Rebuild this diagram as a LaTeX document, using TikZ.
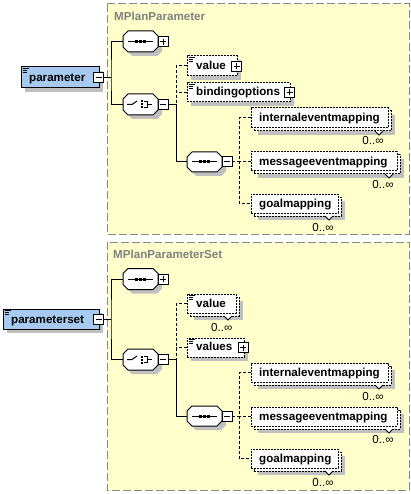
\documentclass[tikz,border=0pt]{standalone}
\usepackage{fontspec}
\setmainfont{Liberation Sans}
\definecolor{grpfill}{HTML}{FFFFCC}
\definecolor{grpline}{HTML}{888888}
\definecolor{elblue}{HTML}{A6CAF0}
\definecolor{shad}{HTML}{C0C0C0}
\definecolor{ttl}{HTML}{808080}
\tikzset{
 grp/.style={draw=grpline, fill=grpfill, line width=1pt, dash pattern=on 8pt off 3pt},
 elbox/.style={draw, line width=1pt, fill=elblue, inner sep=0pt, outer sep=0pt},
 optbox/.style={draw, line width=1pt, fill=white, inner sep=0pt, outer sep=0pt, dash pattern=on 2pt off 1pt},
 pmbox/.style={draw, fill=white, line width=1pt, minimum size=10pt, inner sep=0pt, outer sep=0pt},
 lbl/.style={font=\fontsize{11.6}{14}\selectfont\bfseries, anchor=base west, inner sep=0pt},
 ttlstyle/.style={font=\fontsize{11.6}{14}\selectfont\bfseries, anchor=base west, inner sep=0pt, text=ttl},
 occ/.style={font=\fontsize{11.6}{14}\selectfont, anchor=base, inner sep=0pt},
 conn/.style={line width=1pt},
 dconn/.style={line width=1pt, dash pattern=on 3pt off 2pt},
 sym/.style={line width=1pt},
}
% style, name, x1, y1, x2, y2
\newcommand\elnode[6]{%
 \fill[shad] (#3+4,#4+4) rectangle (#5+4,#6+4);
 \node[#1, minimum width={#5-#3}, minimum height={#6-#4}] (#2) at ({(#3+#5)/2},{(#4+#6)/2}) {};}
% name, x, y, plus(1)/minus(0)
\newcommand\pmnode[4]{%
 \node[pmbox] (#1) at (#2,#3) {};
 \draw[line width=1pt] ([xshift=-3pt]#1.center) -- ([xshift=3pt]#1.center);
 \ifnum#4=1 \draw[line width=1pt] ([yshift=-3pt]#1.center) -- ([yshift=3pt]#1.center);\fi}
% icon at x1,y1
\newcommand\elicon[2]{%
 \draw[line width=0.8pt] (#1+1.5,#2+1.5) -- (#1+7.5,#2+1.5)
   (#1+1.5,#2+3.5) -- (#1+6,#2+3.5) (#1+1.5,#2+5.5) -- (#1+6,#2+5.5);}
% compositor: name, x1, y1, x2, y2
\newcommand\cpath[4]{(#1+5,#2) -- (#3-5,#2) -- (#3,#2+5) -- (#3,#4-5) -- (#3-5,#4) -- (#1+5,#4) -- (#1,#4-5) -- (#1,#2+5) -- cycle}
\newcommand\compo[5]{%
 \fill[shad] \cpath{#2+4}{#3+4}{#4+4}{#5+4};
 \draw[line width=1pt, fill=white] \cpath{#2}{#3}{#4}{#5};
 \coordinate (#1w) at (#2,{(#3+#5)/2});
 \coordinate (#1c) at ({(#2+#4)/2},{(#3+#5)/2});}
\newcommand\seqsym[1]{%
 \draw[sym] ([xshift=-12.5pt]#1) -- ([xshift=12.5pt]#1);
 \foreach \dx in {-3.7,0,3.7} \fill ([shift={(\dx pt-1.5pt,-1.5pt)}]#1) rectangle ([shift={(\dx pt+1.5pt,1.5pt)}]#1);}
\newcommand\chosym[1]{%
 \draw[sym] ([xshift=-13.5pt]#1) -- ([xshift=-8.5pt]#1) -- ([shift={(-3.5pt,3.5pt)}]#1);
 \foreach \dy in {-3,0,3} \fill ([shift={(0.5pt,\dy pt-1pt)}]#1) rectangle ([shift={(2.7pt,\dy pt+1pt)}]#1);
 \draw[sym] ([shift={(3.5pt,3pt)}]#1) -- ([shift={(6.5pt,3pt)}]#1) -- ([shift={(6.5pt,-3pt)}]#1) -- ([shift={(3.5pt,-3pt)}]#1);
 \draw[sym] ([shift={(6.5pt,0pt)}]#1) -- ([shift={(11.5pt,0pt)}]#1);}
% multi element: name, x1, y1, x2, y2, notchx, labelx, labelbase, text
\newcommand\multi[9]{%
 \fill[shad] (#2+7,#3+7) rectangle (#4+7,#5+7);
 \node[optbox, minimum width={#4-#2}, minimum height={#5-#3}] (#1b) at ({(#2+#4)/2+3},{(#3+#5)/2+3}) {};
 \node[optbox, minimum width={#4-#2}, minimum height={#5-#3}] (#1) at ({(#2+#4)/2},{(#3+#5)/2}) {};
 \fill[white] (#6-4,#5+3) -- (#6,#5+7) -- (#6+4,#5+3) -- cycle;
 \draw[line width=1pt] (#6-4,#5+3) -- (#6,#5+7) -- (#6+4,#5+3);
 \node[lbl] (#1t) at (259,{(#3+#5)/2+4}) {#9};
 \node[occ] (#1o) at (#7,#8) {0..∞};}
\begin{document}
\begin{tikzpicture}[x=1pt,y=-1pt]
\useasboundingbox (0,0) rectangle (411,494);
% groups
\draw[grp] (107,4) rectangle (409,234);
\draw[grp] (107,242) rectangle (409,490);
\node[ttlstyle] (t1) at (114,21) {MPlanParameter};
\node[ttlstyle] (t2) at (113,258.5) {MPlanParameterSet};

% ===== top =====
\elnode{elbox}{p1}{21}{67}{99}{88}
\elicon{21}{67}
\node[lbl] (p1t) at (29,81.5) {parameter};
\pmnode{p1pm}{98.5}{77.5}{0}

\compo{s1}{123}{31}{158}{52}
\seqsym{s1c}
\pmnode{s1pm}{163}{42}{1}
\compo{c1}{123}{94}{158}{115}
\chosym{c1c}
\pmnode{c1pm}{163}{104.5}{0}

\elnode{optbox}{v1}{187}{56}{237}{76}
\elicon{187}{56}
\node[lbl] (v1t) at (196,69.8) {value};
\pmnode{v1pm}{236.5}{66.5}{1}
\elnode{optbox}{b1}{187}{83}{290}{102}
\elicon{187}{83}
\node[lbl] (b1t) at (196,96) {bindingoptions};
\pmnode{b1pm}{289.5}{92.5}{1}

\compo{s2}{187}{152}{222}{172}
\seqsym{s2c}
\pmnode{s2pm}{227}{162}{0}

\multi{i1}{251}{108}{388}{128}{379}{373}{145}{internaleventmapping}
\multi{m1}{251}{152}{397}{171}{389}{383}{188}{messageeventmapping}
\multi{g1}{251}{194}{338}{213}{329}{323}{231.5}{goalmapping}

\coordinate (j1) at (111,77.5);
\draw[conn] (p1pm.east) -- (j1);
\draw[conn] (s1w) -| (j1) |- (c1w);
\coordinate (j2) at (176,104.5);
\draw[conn] (c1pm.east) -- (j2) |- (s2w);
\draw[dconn] (v1.west) -| (j2);
\draw[dconn] (b1.west) -- (b1.west -| j2);
\coordinate (j3) at (239,161.5);
\draw[dconn] (s2pm.east) -- (s2pm.east -| j3);
\draw[dconn] (i1.west) -| (g1.west -| j3) -- (g1.west);
\draw[dconn] (m1.west) -- (m1.west -| j3);

% ===== bottom =====
\elnode{elbox}{p2}{3}{309}{99}{329}
\elicon{3}{309}
\node[lbl] (p2t) at (11,323.3) {parameterset};
\pmnode{p2pm}{98.5}{319}{0}

\compo{s3}{123}{268.5}{158}{289.5}
\seqsym{s3c}
\pmnode{s3pm}{163}{279}{1}
\compo{c2}{123}{349}{158}{370}
\chosym{c2c}
\pmnode{c2pm}{163}{359.5}{0}

% value with multiplicity
\fill[shad] (194,301) rectangle (243,320);
\node[optbox, minimum width=49, minimum height=19] (v2b) at (214.5,306.5) {};
\node[optbox, minimum width=49, minimum height=19] (v2) at (211.5,303.5) {};
\fill[white] (224,316) -- (228,320) -- (232,316) -- cycle;
\draw[line width=1pt] (224,316) -- (228,320) -- (232,316);
\elicon{187}{294}
\node[lbl] (v2t) at (196,307.7) {value};
\node[occ] (v2o) at (221.7,331.5) {0..∞};

\elnode{optbox}{vs2}{187}{338}{244}{357}
\elicon{187}{338}
\node[lbl] (vs2t) at (196,350.5) {values};
\pmnode{vs2pm}{243}{347.5}{1}

\compo{s4}{187}{406}{222}{426}
\seqsym{s4c}
\pmnode{s4pm}{227}{416}{0}

\multi{i2}{251}{363}{388}{382}{379}{373}{400.5}{internaleventmapping}
\multi{m2}{251}{407}{397}{426}{389}{383}{443}{messageeventmapping}
\multi{g2}{251}{449}{338}{468}{329}{323}{486.5}{goalmapping}

\coordinate (k1) at (111,319);
\draw[conn] (p2pm.east) -- (k1);
\draw[conn] (s3w) -| (k1) |- (c2w);
\coordinate (k2) at (176,359.5);
\draw[conn] (c2pm.east) -- (k2) |- (s4w);
\draw[dconn] (v2.west) -| (k2);
\draw[dconn] (vs2.west) -- (vs2.west -| k2);
\coordinate (k3) at (239,416.5);
\draw[dconn] (s4pm.east) -- (s4pm.east -| k3);
\draw[dconn] (i2.west) -| (g2.west -| k3) -- (g2.west);
\draw[dconn] (m2.west) -- (m2.west -| k3);
\end{tikzpicture}
\end{document}
